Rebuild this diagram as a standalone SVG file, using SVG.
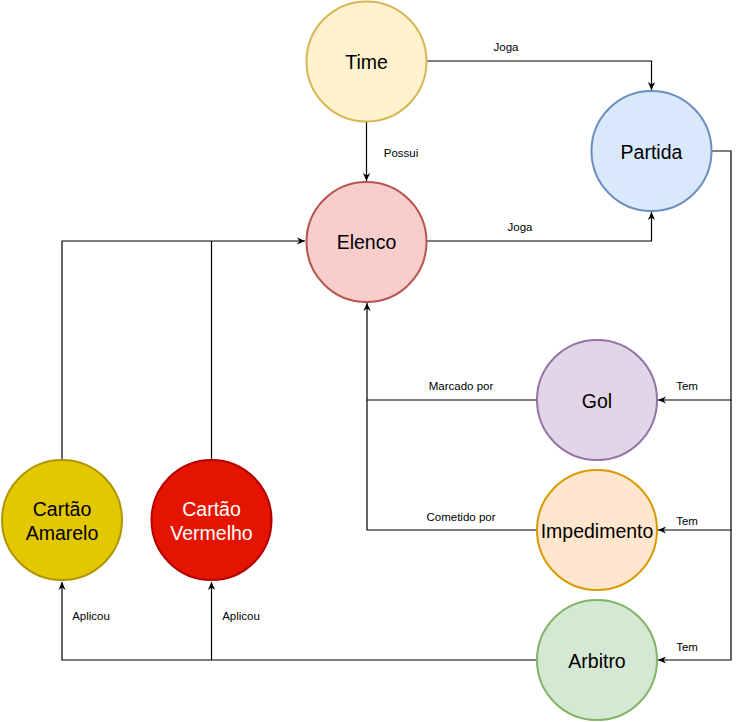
<svg xmlns="http://www.w3.org/2000/svg" width="741" height="722" viewBox="0 0 741 722">
<defs>
<marker id="arr" viewBox="0 0 10 10" refX="10" refY="5" markerWidth="8" markerHeight="8" markerUnits="userSpaceOnUse" orient="auto">
<path d="M0,0.5 L10,5 L0,9.5 L3,5 z" fill="#000"/>
</marker>
<style>
.n{stroke-width:2}
.t{font-family:"Liberation Sans",Arial,sans-serif;font-size:19.5px;text-anchor:middle;dominant-baseline:central;fill:#000}
.e{fill:none;stroke:#000;stroke-width:1.2}
.l{font-family:"Liberation Sans",Arial,sans-serif;font-size:11.5px;text-anchor:middle;dominant-baseline:central;fill:#000}
</style>
</defs>
<rect width="741" height="722" fill="#fff"/>
<g id="connectors">
<path class="e" d="M427,61 H651.5 V90" marker-end="url(#arr)"/>
<path class="e" d="M366.5,122 V181" marker-end="url(#arr)"/>
<path class="e" d="M427,241 H651.5 V212" marker-end="url(#arr)"/>
<path class="e" d="M712,151 H731 V400 H658" marker-end="url(#arr)"/>
<path class="e" d="M731,400 V530 H658" marker-end="url(#arr)"/>
<path class="e" d="M731,530 V660 H658" marker-end="url(#arr)"/>
<path class="e" d="M537,400 H367 V303" marker-end="url(#arr)"/>
<path class="e" d="M537,530 H367 V400"/>
<path class="e" d="M537,660 H62 V582" marker-end="url(#arr)"/>
<path class="e" d="M211.5,660 V582" marker-end="url(#arr)"/>
<path class="e" d="M62,459 V241 H305" marker-end="url(#arr)"/>
<path class="e" d="M211.5,459 V241"/>
<text class="l" x="506" y="47">Joga</text>
<text class="l" x="401" y="153">Possui</text>
<text class="l" x="520" y="227">Joga</text>
<text class="l" x="687" y="386">Tem</text>
<text class="l" x="687" y="521">Tem</text>
<text class="l" x="687" y="647">Tem</text>
<text class="l" x="461" y="386">Marcado por</text>
<text class="l" x="461" y="517">Cometido por</text>
<text class="l" x="91" y="616">Aplicou</text>
<text class="l" x="241" y="616">Aplicou</text>
</g>
<g id="time"><circle class="n" cx="366.5" cy="61.5" r="60" fill="#fff2cc" stroke="#d6b656"/><text class="t" x="366.5" y="62">Time</text></g>
<g id="partida"><circle class="n" cx="651.5" cy="151" r="60" fill="#dae8fc" stroke="#6c8ebf"/><text class="t" x="651.5" y="152">Partida</text></g>
<g id="elenco"><circle class="n" cx="366.5" cy="242" r="60" fill="#f8cecc" stroke="#b85450"/><text class="t" x="366.5" y="242">Elenco</text></g>
<g id="gol"><circle class="n" cx="597" cy="400" r="60" fill="#e1d5e7" stroke="#9673a6"/><text class="t" x="597" y="401">Gol</text></g>
<g id="impedimento"><circle class="n" cx="597" cy="530" r="60" fill="#ffe6cc" stroke="#d79b00"/><text class="t" x="597" y="531">Impedimento</text></g>
<g id="arbitro"><circle class="n" cx="597" cy="660" r="60" fill="#d5e8d4" stroke="#82b366"/><text class="t" x="597" y="661">Arbitro</text></g>
<g id="cartao-amarelo"><circle class="n" cx="62" cy="520" r="60" fill="#e3c800" stroke="#b09500"/><text class="t" x="62" y="509">Cartão</text><text class="t" x="62" y="533">Amarelo</text></g>
<g id="cartao-vermelho"><circle class="n" cx="211.5" cy="520" r="60" fill="#e51400" stroke="#b20000"/><text class="t" x="211.5" y="509" style="fill:#fff">Cartão</text><text class="t" x="211.5" y="533" style="fill:#fff">Vermelho</text></g>
</svg>
